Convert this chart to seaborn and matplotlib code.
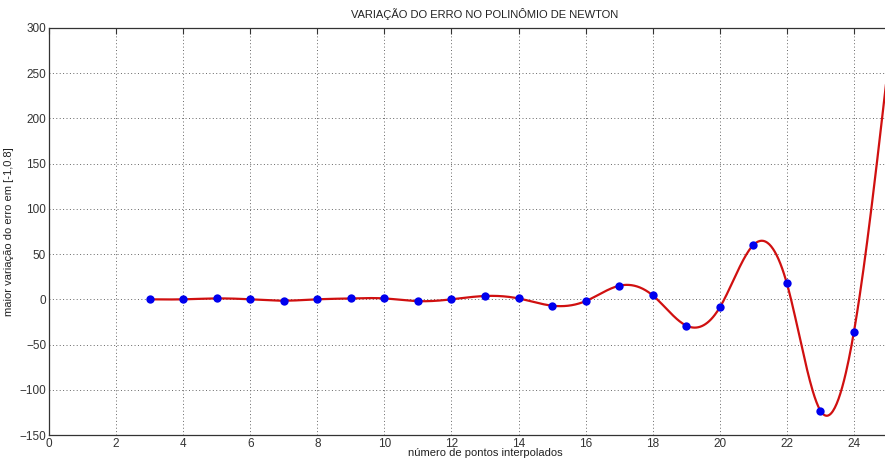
import numpy as np
import pandas as pd
import seaborn as sns
from matplotlib import pyplot as plt

# dados (pontos azuis visíveis)
n_pontos = [3, 4, 5, 6, 7, 8, 9, 10, 11, 12, 13, 14, 15, 16, 17, 18, 19, 20, 21, 22, 23, 24]
variacao = [0, 0, 1, 0, -1.5, 0, 1, 1, -2, 0, 3.7, 1, -7, -2, 15, 4.4, -29, -9, 60, 17.7, -123, -36]
# ponto seguinte, fora da área recortada da imagem (só a curva aparece)
n_extra = [25]
var_extra = [252]

titulo = "VARIAÇÃO DO ERRO NO POLINÔMIO DE NEWTON"
rotulo_x = "número de pontos interpolados"
rotulo_y = "maior variação do erro em [-1,0.8]"


def spline_natural(x, y, xs):
    # spline cúbica natural (curva vermelha)
    x = np.asarray(x, float)
    y = np.asarray(y, float)
    n = len(x)
    h = np.diff(x)
    A = np.zeros((n, n))
    b = np.zeros(n)
    A[0, 0] = 1
    A[-1, -1] = 1
    for i in range(1, n - 1):
        A[i, i - 1] = h[i - 1]
        A[i, i] = 2 * (h[i - 1] + h[i])
        A[i, i + 1] = h[i]
        b[i] = 3 * ((y[i + 1] - y[i]) / h[i] - (y[i] - y[i - 1]) / h[i - 1])
    c = np.linalg.solve(A, b)
    idx = np.clip(np.searchsorted(x, xs) - 1, 0, n - 2)
    dx = xs - x[idx]
    bb = (y[idx + 1] - y[idx]) / h[idx] - h[idx] * (2 * c[idx] + c[idx + 1]) / 3
    d = (c[idx + 1] - c[idx]) / (3 * h[idx])
    return y[idx] + bb * dx + c[idx] * dx ** 2 + d * dx ** 3


x_todos = n_pontos + n_extra
y_todos = variacao + var_extra
xs = np.linspace(x_todos[0], x_todos[-1], 800)
curva = pd.DataFrame({"x": xs, "y": spline_natural(x_todos, y_todos, xs)})
pontos = pd.DataFrame({"x": n_pontos, "y": variacao})

sns.set_style("white")
plt.rcParams['font.family'] = ['Liberation Sans', 'DejaVu Sans']

fig = plt.figure(figsize=(8.85, 4.61), dpi=100)
ax = fig.add_axes([49 / 885, 26 / 461, 872 / 885, 407 / 461])

sns.lineplot(data=curva, x="x", y="y", color="#d01010", linewidth=1.6, ax=ax, zorder=2)
sns.scatterplot(data=pontos, x="x", y="y", color="#0000ee", s=36, edgecolor="#0000ee",
                linewidth=0, ax=ax, zorder=3)

ax.set_xlim(0, 26)
ax.set_ylim(-150, 300)
ax.set_xticks(range(0, 27, 2))
ax.set_yticks(range(-150, 301, 50))
ax.grid(True, linestyle=(0, (1, 2.5)), color="#666666", linewidth=0.7)
ax.tick_params(direction="in", length=4, width=0.8, labelsize=8.5, colors="#333333",
               top=True, right=True, pad=2)
for s in ax.spines.values():
    s.set_color("#333333")
    s.set_linewidth(0.9)

ax.set_title(titulo, fontsize=8, pad=7, color="#222222")
ax.set_xlabel(rotulo_x, fontsize=8, labelpad=-1, color="#222222")
ax.set_ylabel(rotulo_y, fontsize=8, labelpad=4, color="#222222")

fig.savefig("out.png", dpi=100)
